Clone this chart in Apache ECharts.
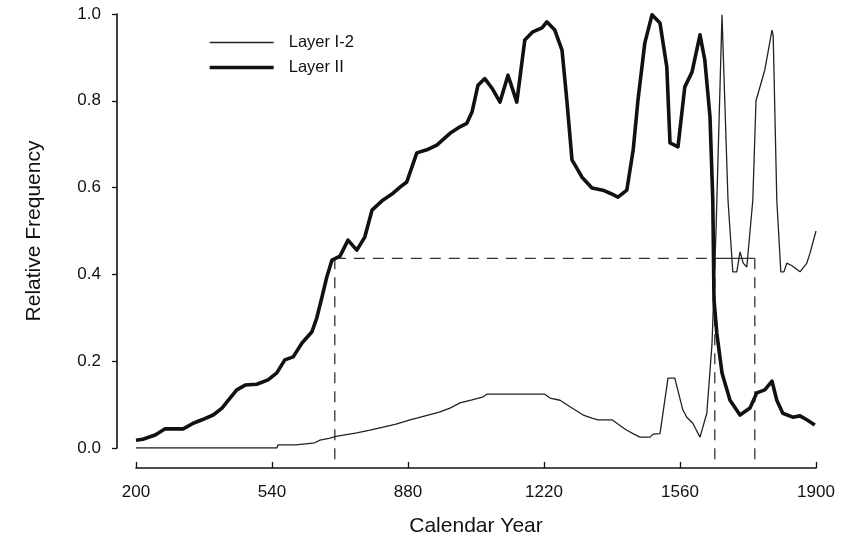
<!DOCTYPE html>
<html>
<head>
<meta charset="utf-8">
<script src="https://cdn.jsdelivr.net/npm/echarts@6/dist/echarts.min.js"></script>
<style>
html,body{margin:0;padding:0;background:#fff;}
#chart{width:842px;height:542px;}
</style>
</head>
<body>
<div id="chart"></div>
<script>
// ---- data ----
const xTicks = [200, 540, 880, 1220, 1560, 1900];
const seriesNames = ['Layer I-2', 'Layer II'];

const layerI2 = [
  [200,0.0],[552,0.0],[555,0.007],[600,0.007],[605,0.01],[647,0.012],[660,0.018],[685,0.023],[700,0.027],
  [752,0.035],[785,0.041],[818,0.048],[850,0.055],[885,0.065],[902,0.069],[930,0.076],[960,0.083],
  [985,0.092],[1010,0.104],[1040,0.111],[1068,0.118],[1077,0.124],[1222,0.124],[1235,0.115],[1260,0.11],
  [1290,0.092],[1318,0.076],[1340,0.069],[1355,0.065],[1390,0.065],[1410,0.052],[1427,0.041],[1445,0.032],
  [1460,0.025],[1485,0.025],[1493,0.032],[1510,0.033],[1530,0.161],[1547,0.161],[1567,0.088],[1577,0.071],
  [1592,0.057],[1610,0.025],[1627,0.08],[1640,0.24],[1650,0.5],[1665,0.998],[1680,0.571],[1692,0.406],
  [1702,0.406],[1710,0.452],[1718,0.426],[1727,0.417],[1742,0.571],[1750,0.80],[1772,0.871],[1790,0.963],
  [1793,0.95],[1802,0.571],[1812,0.406],[1820,0.406],[1827,0.426],[1840,0.42],[1860,0.406],[1877,0.426],
  [1885,0.449],[1900,0.5]
];

const layerII = [
  [200,0.018],[217,0.02],[248,0.03],[272,0.044],[318,0.044],[343,0.057],[365,0.065],[393,0.076],
  [415,0.092],[435,0.115],[452,0.134],[473,0.145],[502,0.147],[530,0.157],[552,0.173],[572,0.203],
  [593,0.21],[615,0.242],[640,0.268],[652,0.30],[665,0.348],[677,0.394],[690,0.433],[710,0.442],
  [730,0.479],[752,0.456],[772,0.486],[790,0.548],[817,0.571],[840,0.585],[860,0.601],[877,0.613],
  [902,0.68],[927,0.687],[952,0.698],[985,0.725],[1010,0.74],[1027,0.748],[1040,0.774],[1055,0.836],
  [1072,0.851],[1090,0.829],[1110,0.797],[1130,0.859],[1152,0.797],[1172,0.94],[1192,0.959],[1215,0.968],
  [1227,0.982],[1247,0.963],[1265,0.917],[1277,0.802],[1290,0.664],[1315,0.624],[1340,0.599],[1367,0.594],
  [1385,0.587],[1405,0.578],[1427,0.594],[1443,0.687],[1455,0.802],[1472,0.933],[1490,0.998],[1510,0.979],
  [1527,0.878],[1535,0.703],[1555,0.694],[1572,0.832],[1590,0.866],[1610,0.952],[1622,0.894],[1635,0.763],
  [1642,0.571],[1645,0.341],[1652,0.265],[1665,0.173],[1685,0.11],[1710,0.076],[1735,0.092],[1752,0.127],
  [1772,0.134],[1790,0.154],[1802,0.11],[1817,0.08],[1842,0.071],[1860,0.074],[1877,0.065],[1897,0.053]
];

// reference (dashed) lines
const refLevel = 0.437;
const refYears = [697, 1647, 1747];
const refBottom = -0.032;

// ---- build chart ----
const chart = echarts.init(document.getElementById('chart'), null, {renderer: 'canvas'});
const FONT = '"Liberation Sans", Arial, Helvetica, sans-serif';
const INK = '#111';

const dashStyle = {color: '#333', width: 1.3, type: [11, 8]};
const refSeries = [];
refSeries.push({
  type: 'line', name: 'refH', data: [[refYears[0], refLevel], [refYears[1], refLevel]],
  symbol: 'none', lineStyle: dashStyle, clip: false, silent: true, z: 1
});
refSeries.push({
  type: 'line', name: 'refH2', data: [[refYears[1], refLevel], [refYears[2], refLevel]],
  symbol: 'none', lineStyle: {color: '#333', width: 1.2}, clip: false, silent: true, z: 1
});
refYears.forEach((yr, i) => {
  refSeries.push({
    type: 'line', name: 'refV' + i, data: [[yr, refLevel], [yr, refBottom]],
    symbol: 'none', lineStyle: dashStyle, clip: false, silent: true, z: 1
  });
});

const option = {
  backgroundColor: '#fff',
  animation: false,
  grid: {left: 136, right: 26, top: 14, bottom: 94, containLabel: false},
  legend: {
    show: true,
    data: [
      {name: seriesNames[0], lineStyle: {width: 1.3}},
      {name: seriesNames[1], lineStyle: {width: 3.4}}
    ],
    orient: 'vertical',
    left: 203, top: 29,
    itemWidth: 64, itemHeight: 14, itemGap: 8,
    itemStyle: {opacity: 0},
    textStyle: {fontFamily: FONT, fontSize: 16.5, color: INK, padding: [0, 0, 0, 10]},
    selectedMode: false
  },
  xAxis: {
    type: 'value', min: 200, max: 1900,
    offset: 20,
    name: 'Calendar Year', nameLocation: 'middle', nameGap: 48,
    nameTextStyle: {fontFamily: FONT, fontSize: 21, color: INK},
    axisLine: {show: true, onZero: false, lineStyle: {color: INK, width: 1.6}},
    axisTick: {show: true, inside: true, length: 6, lineStyle: {color: INK, width: 1.3}, customValues: xTicks},
    axisLabel: {fontFamily: FONT, fontSize: 17, color: INK, margin: 16, customValues: xTicks, formatter: v => String(v)},
    splitLine: {show: false}
  },
  yAxis: {
    type: 'value', min: 0, max: 1, interval: 0.2,
    offset: 19,
    name: 'Relative Frequency', nameLocation: 'middle', nameGap: 72, nameRotate: 90,
    nameTextStyle: {fontFamily: FONT, fontSize: 21, color: INK},
    axisLine: {show: true, onZero: false, lineStyle: {color: INK, width: 1.6}},
    axisTick: {show: true, inside: false, length: 5, lineStyle: {color: INK, width: 1.3}},
    axisLabel: {fontFamily: FONT, fontSize: 17, color: INK, margin: 16, formatter: v => v.toFixed(1)},
    splitLine: {show: false}
  },
  series: [
    {
      type: 'line', name: seriesNames[0], data: layerI2, symbol: 'none',
      lineStyle: {color: '#222', width: 1.3}, itemStyle: {color: '#222'}, z: 2
    },
    {
      type: 'line', name: seriesNames[1], data: layerII, symbol: 'none',
      lineStyle: {color: '#111', width: 3.6, join: 'round'}, itemStyle: {color: '#111'}, z: 3
    }
  ].concat(refSeries)
};
chart.setOption(option);
</script>
</body>
</html>
